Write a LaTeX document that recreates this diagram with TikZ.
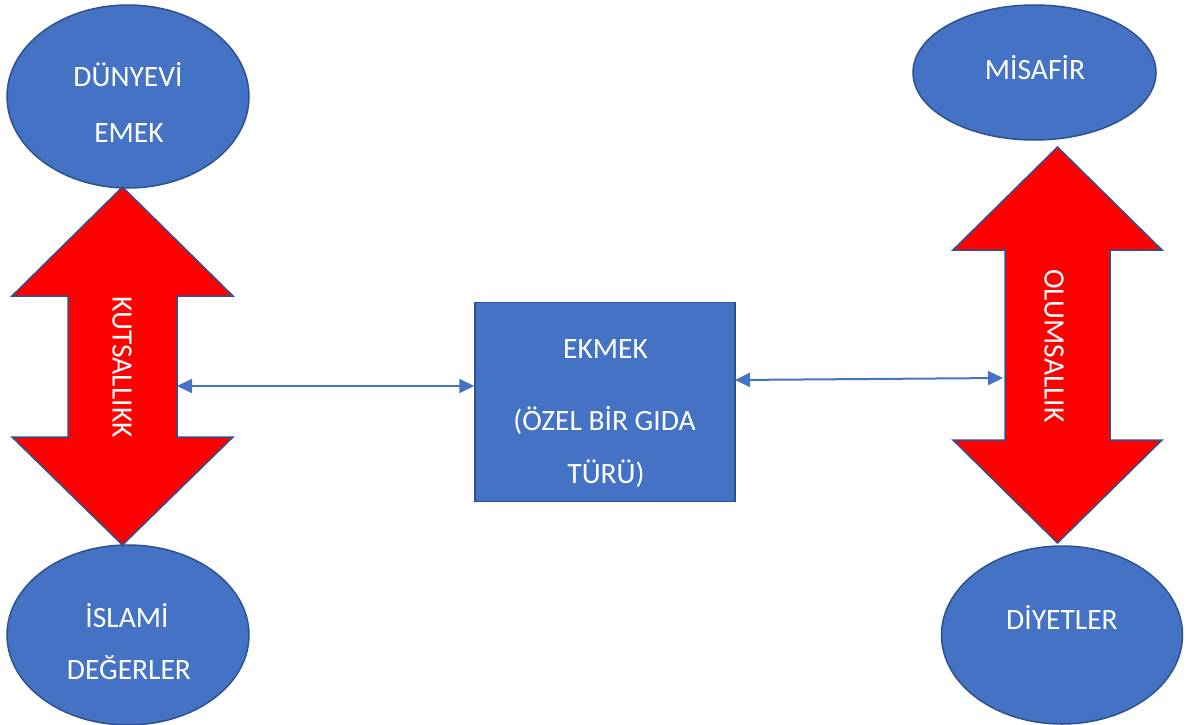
\documentclass[tikz,border=0pt]{standalone}
\usepackage{fontspec}
\setmainfont{Carlito}
\usetikzlibrary{arrows.meta,shapes.geometric}
\definecolor{fillblue}{HTML}{4472C4}
\definecolor{edgeblue}{HTML}{2F528F}
\definecolor{arrowred}{HTML}{FF0000}
\tikzset{
  blob/.style={ellipse, draw=edgeblue, fill=fillblue, line width=1.5pt, inner sep=0pt},
  boxnode/.style={rectangle, draw=edgeblue, fill=fillblue, line width=1.5pt, inner sep=0pt},
  wtext/.style={text=white, font=\fontsize{29.5}{31}\selectfont, inner sep=0pt, anchor=base},
  vtext/.style={text=white, font=\fontsize{29.5}{31}\selectfont, inner sep=0pt, anchor=center, rotate=-90},
  bigarrow/.style={draw=edgeblue, fill=arrowred, line width=1.5pt, line join=miter},
  link/.style={draw=fillblue, line width=2pt, {Triangle[length=15pt,width=14pt]}-{Triangle[length=15pt,width=14pt]}}
}
\begin{document}
\begin{tikzpicture}[x=1pt,y=-1pt]
\useasboundingbox (0,0) rectangle (1194,725);
% ellipses
\node[blob, minimum width=242pt, minimum height=183pt] (dunyevi) at (128,96.5) {};
\node[blob, minimum width=242pt, minimum height=180pt] (islami) at (128,635) {};
\node[blob, minimum width=243pt, minimum height=135pt] (misafir) at (1034.5,72.5) {};
\node[blob, minimum width=241pt, minimum height=178pt] (diyet) at (1062,635) {};
% box
\node[boxnode, minimum width=260pt, minimum height=199pt] (ekmek) at (605,402) {};
% texts
\node[wtext] (t1) at (128,87) {DÜNYEVİ};
\node[wtext] (t2) at (129,142) {EMEK};
\node[wtext] (t3) at (127,627) {İSLAMİ};
\node[wtext] (t4) at (129,679) {DEĞERLER};
\node[wtext] (t5) at (1035,80) {MİSAFİR};
\node[wtext] (t6) at (1062,629) {DİYETLER};
\node[wtext] (t7) at (605.5,358) {EKMEK};
\node[wtext] (t8) at (604.5,430) {(ÖZEL BİR GIDA};
\node[wtext] (t9) at (606,483) {TÜRÜ)};
% left double arrow
\draw[bigarrow] (122.5,187) -- (233,296) -- (177,296) -- (177,437) -- (233,437) -- (122.5,545)
  -- (12,437) -- (68,437) -- (68,296) -- (12,296) -- cycle;
\node[vtext] (kuts) at (122,367) {KUTSALLIKK};
\coordinate (leftshaft) at (177,386);
% right double arrow
\draw[bigarrow] (1057.5,147) -- (1162,250) -- (1110,250) -- (1110,440) -- (1162,440) -- (1057.5,543)
  -- (953,440) -- (1005,440) -- (1005,250) -- (953,250) -- cycle;
\node[vtext] (olum) at (1054,346) {OLUMSALLIK};
\coordinate (rightshaft) at (1003,378);
% connectors
\coordinate (ekL) at (ekmek.west |- leftshaft);
\coordinate (ekR) at (735,380);
\draw[link] (leftshaft) -- (ekL);
\draw[link] (ekR) -- (rightshaft);
\end{tikzpicture}
\end{document}
